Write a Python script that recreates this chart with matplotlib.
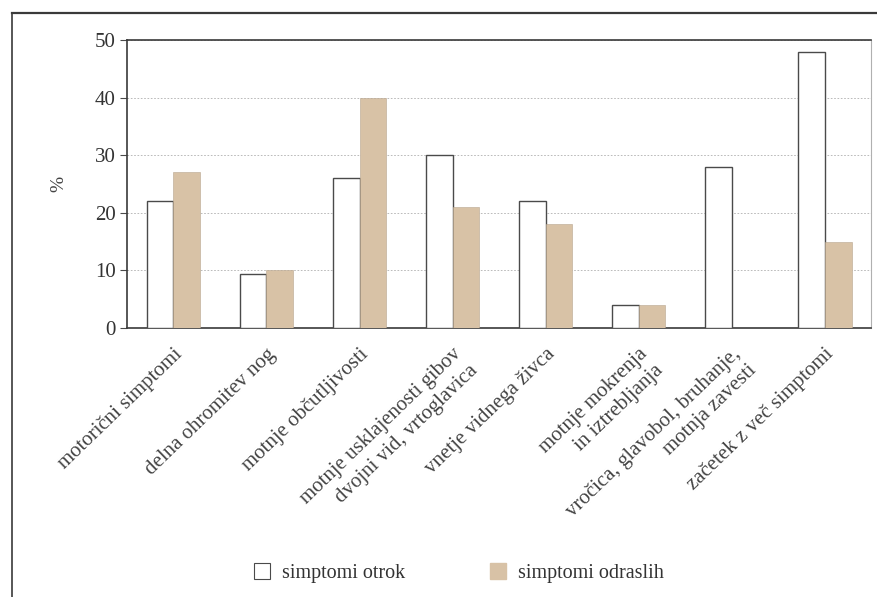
import matplotlib.pyplot as plt
import numpy as np
from matplotlib.patches import Patch
from matplotlib.lines import Line2D

plt.rcParams["font.family"] = ["Liberation Serif", "DejaVu Serif"]

categories = [
    "motorični simptomi",
    "delna ohromitev nog",
    "motnje občutljivosti",
    "motnje usklajenosti gibov\ndvojni vid, vrtoglavica",
    "vnetje vidnega živca",
    "motnje mokrenja\nin iztrebljanja",
    "vročica, glavobol, bruhanje,\nmotnja zavesti",
    "začetek z več simptomi",
]
otroci = [22, 9.3, 26, 30, 22, 4, 28, 48]
odrasli = [27, 10, 40, 21, 18, 4, 0, 15]
yticks = [0, 10, 20, 30, 40, 50]

tan = "#d8c2a6"
edge = "#4a4a4a"

fig = plt.figure(figsize=(8.77, 5.97), dpi=100)
ax = fig.add_axes([0.1448, 0.4506, 0.8484, 0.4824])

x = np.arange(len(categories))
w = 0.29
ax.bar(x - w / 2, otroci, w, color="white", edgecolor=edge, linewidth=1.0, zorder=3)
ax.bar(x + w / 2, odrasli, w, color=tan, edgecolor="#b8a58e", linewidth=0.4, zorder=3)

ax.set_xlim(-0.5, len(categories) - 0.5)
ax.set_ylim(0, 50)
ax.set_yticks(yticks)
ax.yaxis.grid(True, color="#b0b0b0", linestyle=(0, (2, 2)), linewidth=0.6, zorder=0)
ax.set_axisbelow(True)

ax.set_xticks(x)
ax.set_xticklabels(categories, rotation=44, ha="right", va="top",
                   rotation_mode="anchor", fontsize=15, color="#444444",
                   multialignment="right", linespacing=1.25)
ax.tick_params(axis="x", length=0, pad=12)
ax.tick_params(axis="y", length=5, width=0.8, color=edge, labelsize=15,
               labelcolor="#333333", pad=3)

for side in ["left", "top", "bottom"]:
    ax.spines[side].set_color("#3a3a3a")
    ax.spines[side].set_linewidth(1.2)
ax.spines["right"].set_color("#b0b0b0")
ax.spines["right"].set_linewidth(0.8)

ax.set_ylabel("%", fontsize=14, color="#444444", labelpad=20)

handles = [
    Patch(facecolor="white", edgecolor=edge, linewidth=0.8, label="simptomi otrok"),
    Patch(facecolor=tan, edgecolor=tan, label="simptomi odraslih"),
]
fig.legend(handles=handles, loc="center", bbox_to_anchor=(0.523, 0.04), ncol=2,
           frameon=False, fontsize=14.5, handlelength=0.8, handleheight=0.8,
           handletextpad=0.6, columnspacing=4.2, labelcolor="#333333")

# outer frame around the figure
fig.add_artist(Line2D([0.0137, 1.0], [0.978, 0.978], color="#3a3a3a", linewidth=1.6,
                      transform=fig.transFigure))
fig.add_artist(Line2D([0.0137, 0.0137], [0.0, 0.978], color="#3a3a3a", linewidth=1.2,
                      transform=fig.transFigure))

fig.savefig("out.png", dpi=100)
